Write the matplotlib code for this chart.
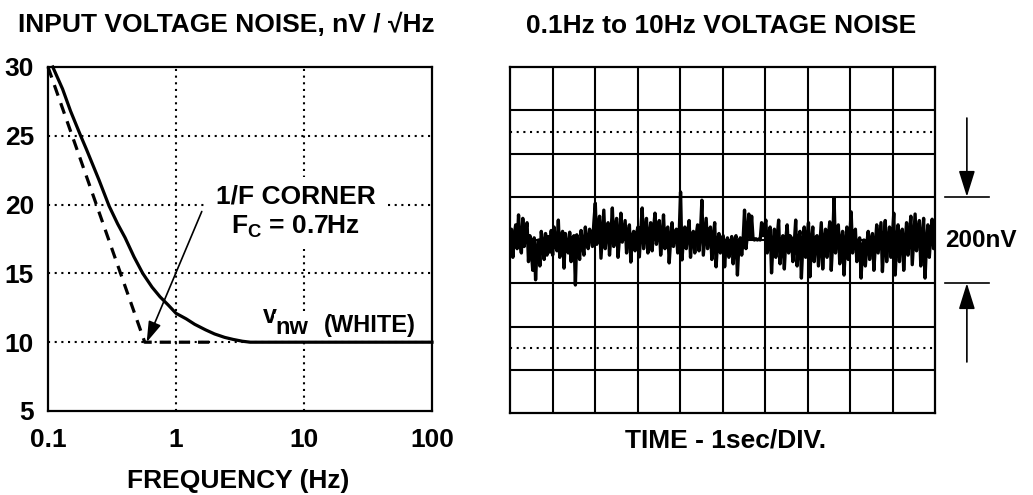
import numpy as np
import matplotlib
matplotlib.use("Agg")
from matplotlib import pyplot as plt

plt.rcParams['font.family'] = ['Liberation Sans', 'DejaVu Sans']
plt.rcParams['font.weight'] = 'bold'
plt.rcParams['mathtext.fontset'] = 'custom'
plt.rcParams['mathtext.rm'] = 'Liberation Sans:bold'
plt.rcParams['mathtext.it'] = 'Liberation Sans:bold'
plt.rcParams['mathtext.bf'] = 'Liberation Sans:bold'

# left: noise density vs frequency
freq_ticks = [0.1, 1, 10, 100]
freq_labels = ['0.1', '1', '10', '100']
nv_ticks = [5, 10, 15, 20, 25, 30]

curve_freq = [0.109, 0.13, 0.15, 0.18, 0.2, 0.25, 0.3, 0.35, 0.4, 0.47, 0.55, 0.65,
              0.75, 0.87, 1.0, 1.2, 1.4, 1.7, 2.0, 2.4, 2.8, 3.3, 3.8, 100]
curve_nv = [30, 28.4, 26.8, 25.0, 24.0, 21.8, 19.9, 18.6, 17.6, 16.2, 15.0, 14.0,
            13.3, 12.7, 12.1, 11.7, 11.3, 10.9, 10.6, 10.35, 10.2, 10.07, 10.0, 10.0]

asym_freq = [0.1, 0.57, 2.0]
asym_nv = [30, 10, 10]

# right: 0.1Hz-10Hz noise trace in nV, 30 samples per 1s division
noise_nv = [
    -10, 25, -40, 12, 35, -20, 58, -5, -30, 50, -15, 20, 40, -50, 10, -25, -70, 5, -92, -20,
    0, -60, 20, -10, -45, 15, -35, 8, -28, 22,
    -35, 30, -12, -25, 46, -40, 8, 20, -65, 15, -18, -30, 18, -50, 4, 10, -104, 12, -22, -45,
    22, -10, -35, 30, -5, -20, 25, 10, -15, 40,
    85, -10, 30, 55, -42, 15, 69, -20, 25, 40, -35, 10, 74, -15, 30, 50, -40, 5, 62, -5,
    20, 45, -30, 12, 35, -51, 8, 20, -25, 15,
    30, -39, 20, 74, -20, 18, 50, -30, 10, 40, -25, 25, 62, -10, 15, 45, -35, 5, 58, -20,
    22, 30, -53, 0, 40, -15, 12, 25, -30, 10,
    111, -46, 5, 30, -20, 15, 45, -40, 10, 20, -30, 12, 35, -25, 18, 92, -35, 8, 50, -20,
    20, 30, -45, 5, 40, -62, -5, 15, -30, 0,
    10, -62, -10, 5, -40, -15, 8, -55, -5, 10, -81, -12, 5, -35, 0, 69, -20, 10, 60, 5,
    55, 2, 0, 3, 0, 2, 0, 40, 10, 30,
    46, -30, 5, 30, -76, -10, 25, -40, 8, 46, -55, -5, 10, -67, 0, 35, -30, 10, 5, -50,
    -8, 46, -60, 0, 20, -88, -10, 30, -40, 5,
    40, -85, -5, 30, -50, 5, 10, -60, -10, 40, -67, 0, 25, -40, 10, 42, -70, -5, 97, -30,
    10, 35, -55, 0, 20, -81, -8, 30, -45, 5,
    65, -30, 10, 25, -50, -5, 5, -88, -15, 0, -60, -10, 20, -45, 0, 15, -70, -12, 35, -30,
    5, 40, -73, -8, 45, -50, 0, 30, -40, 5,
    62, -81, -5, 35, -50, 8, 25, -70, -5, 40, -35, 12, 55, -57, 0, 60, -25, 15, 45, -60,
    5, 50, -88, -10, 35, -40, 10, 48, -20, 15,
]
time_s = np.arange(len(noise_nv)) * 10.0 / (len(noise_nv) - 1)

W, H = 1033, 495
fig = plt.figure(figsize=(W / 100, H / 100), dpi=100)
dot = (0, (1, 2.2))

# ---------------- left panel
ax1 = fig.add_axes([48 / W, 1 - 411 / H, 384 / W, 344 / H])
ax1.set_xscale('log')
ax1.set_xlim(0.1, 100)
ax1.set_ylim(5, 30)
ax1.set_xticks(freq_ticks)
ax1.set_xticklabels(freq_labels)
ax1.minorticks_off()
ax1.set_yticks(nv_ticks)
ax1.tick_params(length=0, labelsize=19, pad=12)
ax1.tick_params(axis='y', pad=10)
for s in ax1.spines.values():
    s.set_linewidth(1.6)
for x in [1, 10]:
    ax1.axvline(x, color='black', lw=1.5, ls=dot, zorder=1)
for y in [10, 15, 20, 25]:
    ax1.axhline(y, color='black', lw=1.5, ls=dot, zorder=1)

ax1.plot(curve_freq, curve_nv, color='black', lw=2.3, clip_on=False, zorder=4)
ax1.plot(asym_freq, asym_nv, color='black', lw=2.3, ls=(0, (3.5, 2.5)), clip_on=False, zorder=3)

ax1.text(8.6, 19.45, '1/F CORNER\nF$_C$ = 0.7Hz', ha='center', va='center',
         fontsize=19, multialignment='center', linespacing=1.3, zorder=5,
         bbox=dict(facecolor='white', edgecolor='none', pad=6))
ax1.annotate('', xy=(0.59, 10.0), xytext=(1.59, 19.5), zorder=6,
             arrowprops=dict(arrowstyle='-|>,head_length=0.7,head_width=0.22',
                             mutation_scale=18, lw=1.2, color='black', shrinkA=0, shrinkB=0))
ax1.text(4.8, 11.36, 'v', ha='left', va='baseline', fontsize=18, zorder=5,
         bbox=dict(facecolor='white', edgecolor='none', pad=1))
ax1.text(6.0, 10.62, 'nw', ha='left', va='baseline', fontsize=17, zorder=5,
         bbox=dict(facecolor='white', edgecolor='none', pad=1))
ax1.text(14.3, 10.75, '(WHITE)', ha='left', va='baseline', fontsize=17, zorder=5)

fig.text(18 / W, 1 - 32 / H, 'INPUT VOLTAGE NOISE, nV / \u221aHz', ha='left', va='baseline',
         fontsize=19)
fig.text(238 / W, 1 - 488 / H, 'FREQUENCY (Hz)', ha='center', va='baseline', fontsize=19)

# ---------------- right panel
ax2 = fig.add_axes([510 / W, 1 - 413 / H, 425 / W, 346 / H])
ax2.set_xlim(0, 10)
ax2.set_ylim(-400, 400)
ax2.set_xticks([])
ax2.set_yticks([])
for s in ax2.spines.values():
    s.set_linewidth(1.6)
for x in range(1, 10):
    ax2.axvline(x, color='black', lw=1.5, zorder=1)
for y in range(-300, 400, 100):
    ax2.axhline(y, color='black', lw=1.5, zorder=1)
for y in [250, -250]:
    ax2.axhline(y, color='black', lw=1.5, ls=dot, zorder=1)

ax2.plot(time_s, noise_nv, color='black', lw=2.4, zorder=3)

# 200nV scale marker
for y in [100, -100]:
    ax2.plot([10.235, 11.27], [y, y], color='black', lw=1.2, clip_on=False)
ax2.annotate('', xy=(10.75, 100), xytext=(10.75, 282), annotation_clip=False,
             arrowprops=dict(arrowstyle='-|>,head_length=0.8,head_width=0.25',
                             mutation_scale=20, lw=1.2, color='black', shrinkA=0, shrinkB=0))
ax2.annotate('', xy=(10.75, -100), xytext=(10.75, -282), annotation_clip=False,
             arrowprops=dict(arrowstyle='-|>,head_length=0.8,head_width=0.25',
                             mutation_scale=20, lw=1.2, color='black', shrinkA=0, shrinkB=0))
ax2.text(10.235, 0, '200nV', ha='left', va='center', fontsize=17.5, clip_on=False)

fig.text(721 / W, 1 - 33 / H, '0.1Hz to 10Hz VOLTAGE NOISE', ha='center', va='baseline',
         fontsize=19)
fig.text(726 / W, 1 - 447 / H, 'TIME - 1sec/DIV.', ha='center', va='baseline', fontsize=19)

fig.savefig('out.png', dpi=100)
